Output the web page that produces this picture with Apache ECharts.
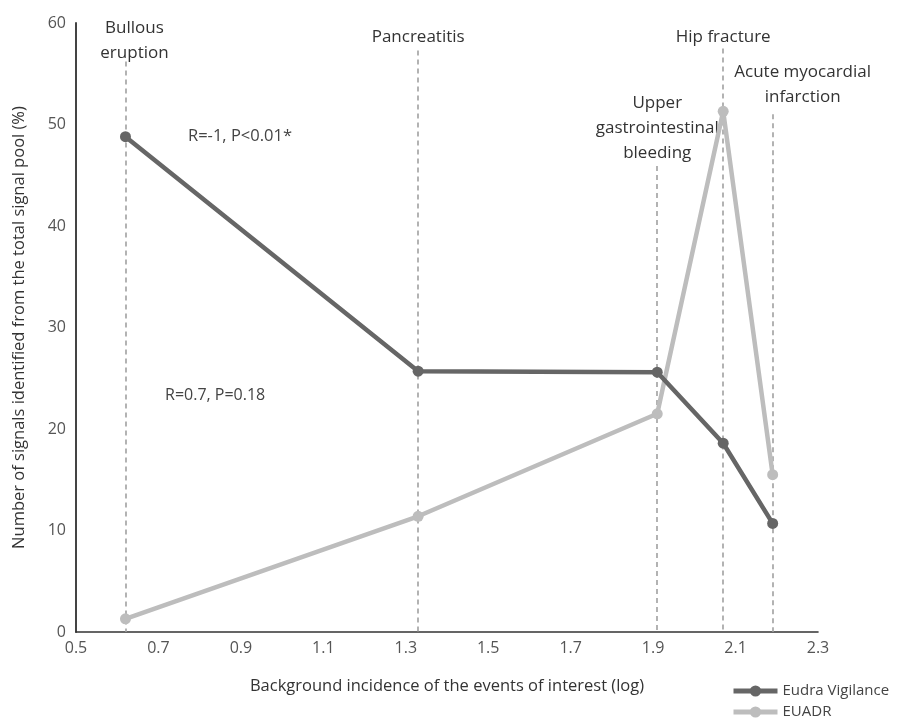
<!DOCTYPE html>
<html>
<head>
<meta charset="utf-8">
<script src="https://cdn.jsdelivr.net/npm/echarts@6/dist/echarts.min.js"></script>
<style>
  html, body { margin: 0; padding: 0; background: #fff; }
  #chart { width: 899px; height: 726px; }
</style>
</head>
<body>
<div id="chart"></div>
<script>
// Events of interest and their background incidence (log scale)
const events = ['Bullous\neruption', 'Pancreatitis', 'Upper\ngastrointestinal\nbleeding', 'Hip fracture', 'Acute myocardial\ninfarction'];
const incidence = [0.62, 1.33, 1.91, 2.07, 2.19];
// Share of signals (%) found by each system
const eudraVigilance = [48.8, 25.7, 25.6, 18.6, 10.7];
const euadr = [1.3, 11.4, 21.5, 51.3, 15.5];
// Upper end (in %) of each dashed guide line, just below its caption
const guideTop = [56.2, 57.3, 45.9, 57.5, 51.0];
const xTicks = [0.5, 0.7, 0.9, 1.1, 1.3, 1.5, 1.7, 1.9, 2.1, 2.3];
const correlations = ['R=-1, P<0.01*', 'R=0.7, P=0.18'];

const font = '"Open Sans", "Noto Sans", sans-serif';
const chart = echarts.init(document.getElementById('chart'));

const pairs = (ys) => incidence.map((x, i) => [x, ys[i]]);

chart.setOption({
  animation: false,
  backgroundColor: '#fff',
  textStyle: { fontFamily: font },
  grid: { left: 76, right: 81, top: 23, bottom: 94 },
  xAxis: {
    type: 'value', min: 0.5, max: 2.3, interval: 0.2,
    name: 'Background incidence of the events of interest (log)',
    nameLocation: 'middle', nameGap: 46,
    nameTextStyle: { fontSize: 16.5, color: '#333', fontFamily: font },
    axisLine: { show: true, lineStyle: { color: '#333', width: 1.6 } },
    axisTick: { show: false },
    splitLine: { show: false },
    axisLabel: {
      fontSize: 16, color: '#555', margin: 8, fontFamily: font,
      formatter: (v) => {
        const t = xTicks.find(k => Math.abs(k - v) < 1e-6);
        return t === undefined ? '' : t.toFixed(1);
      }
    }
  },
  yAxis: {
    type: 'value', min: 0, max: 60, interval: 10,
    name: 'Number of signals identified from the total signal pool (%)',
    nameLocation: 'middle', nameGap: 48, nameRotate: 90,
    nameTextStyle: { fontSize: 16.5, color: '#333', fontFamily: font },
    axisLine: { show: true, lineStyle: { color: '#444', width: 2 } },
    axisTick: { show: false },
    splitLine: { show: false },
    axisLabel: { fontSize: 16, color: '#555', margin: 10, fontFamily: font }
  },
  legend: {
    orient: 'vertical', left: 731, top: 682, itemGap: 3, padding: 0,
    itemWidth: 44, itemHeight: 14,
    lineStyle: { width: 5 },
    textStyle: { fontSize: 15, color: '#444', fontFamily: font, lineHeight: 18 },
    data: ['Eudra Vigilance', 'EUADR']
  },
  series: [
    {
      name: 'EUADR', type: 'line', data: pairs(euadr), z: 3,
      symbol: 'circle', symbolSize: 11,
      lineStyle: { color: '#bdbdbd', width: 4.5 },
      itemStyle: { color: '#bdbdbd' }
    },
    {
      name: 'Eudra Vigilance', type: 'line', data: pairs(eudraVigilance), z: 4,
      symbol: 'circle', symbolSize: 11,
      lineStyle: { color: '#666', width: 4.5 },
      itemStyle: { color: '#666' },
      markLine: {
        silent: true, symbol: 'none', z: 1,
        lineStyle: { color: '#a0a0a0', type: [5, 4], width: 1.6 },
        label: { show: false },
        data: incidence.map((x, i) => [{ coord: [x, guideTop[i]] }, { coord: [x, 0] }])
      }
    }
  ]
});

// Captions above each guide line and the correlation notes
const captionShift = [9, 0, 0, 0, 30];
const captionTop = [16, 25, 91, 25, 60];
const graphics = events.map((name, i) => {
  const p = chart.convertToPixel({ gridIndex: 0 }, [incidence[i], 0]);
  return {
    type: 'text',
    x: p[0] + captionShift[i],
    y: captionTop[i],
    style: {
      text: name, fontSize: 17, fill: '#333', fontFamily: font,
      align: 'center', verticalAlign: 'top', lineHeight: 25
    }
  };
});
graphics.push(
  { type: 'text', x: 188, y: 128, style: { text: correlations[0], fontSize: 16.5, fill: '#444', fontFamily: font } },
  { type: 'text', x: 165, y: 387, style: { text: correlations[1], fontSize: 16, fill: '#444', fontFamily: font } }
);
chart.setOption({ graphic: graphics });
</script>
</body>
</html>
